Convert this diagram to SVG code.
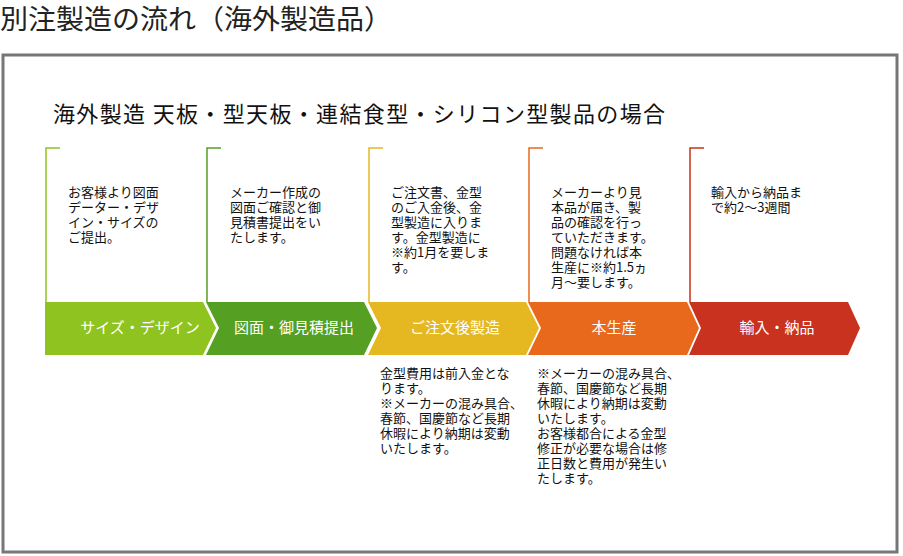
<svg xmlns="http://www.w3.org/2000/svg" width="903" height="556" viewBox="0 0 903 556">
<style>
text{font-family:"Noto Sans CJK JP","Noto Sans",sans-serif;}
.b{font-size:13px;fill:#111;}
.l{font-size:15px;fill:#fff;text-anchor:middle;}
.br{fill:none;stroke-width:1.5;}
</style>
<rect width="903" height="556" fill="#fff"/>
<text x="0" y="29" font-size="27" fill="#222" textLength="392" lengthAdjust="spacingAndGlyphs">別注製造の流れ（海外製造品）</text>
<rect x="3" y="55" width="894" height="497" fill="none" stroke="#777" stroke-width="3"/>
<text x="53" y="122" font-size="22" fill="#111" textLength="612">海外製造 天板・型天板・連結食型・シリコン型製品の場合</text>
<g id="connectors">
<path class="br" stroke="#8fc31f" d="M60,148H46V302"/>
<path class="br" stroke="#55a023" d="M221,148H207V302"/>
<path class="br" stroke="#e5b822" d="M383,148H369V302"/>
<path class="br" stroke="#e8691c" d="M543,148H529V302"/>
<path class="br" stroke="#c8321e" d="M704,148H690V302"/>
</g>
<g id="n1"><path d="M45,302H203L216,328L203,355H45Z" fill="#8fc31f"/><text class="l" x="140" y="333">サイズ・デザイン</text>
<text class="b" x="68" y="197">お客様より図面</text><text class="b" x="68" y="212">データー・デザ</text><text class="b" x="68" y="227">イン・サイズの</text><text class="b" x="68" y="242">ご提出。</text></g>
<g id="n2"><path d="M206,302H364L377,328L364,355H206L219,328Z" fill="#55a023"/><text class="l" x="294" y="333">図面・御見積提出</text>
<text class="b" x="230" y="197">メーカー作成の</text><text class="b" x="230" y="212">図面ご確認と御</text><text class="b" x="230" y="227">見積書提出をい</text><text class="b" x="230" y="242">たします。</text></g>
<g id="n3"><path d="M368,302H526L539,328L526,355H368L381,328Z" fill="#e5b822"/><text class="l" x="455" y="333">ご注文後製造</text>
<text class="b" x="391" y="197">ご注文書、金型</text><text class="b" x="391" y="212">のご入金後、金</text><text class="b" x="391" y="227">型製造に入りま</text><text class="b" x="391" y="242">す。金型製造に</text><text class="b" x="391" y="257">※約1月を要しま</text><text class="b" x="391" y="272">す。</text>
<text class="b" x="380" y="378">金型費用は前入金とな</text><text class="b" x="380" y="393">ります。</text><text class="b" x="380" y="408">※メーカーの混み具合、</text><text class="b" x="380" y="423">春節、国慶節など長期</text><text class="b" x="380" y="438">休暇により納期は変動</text><text class="b" x="380" y="453">いたします。</text></g>
<g id="n4"><path d="M528,302H687L699,328L687,355H528L541,328Z" fill="#e8691c"/><text class="l" x="614" y="333">本生産</text>
<text class="b" x="551" y="197">メーカーより見</text><text class="b" x="551" y="212">本品が届き、製</text><text class="b" x="551" y="227">品の確認を行っ</text><text class="b" x="551" y="242">ていただきます。</text><text class="b" x="551" y="257">問題なければ本</text><text class="b" x="551" y="272">生産に※約1.5ヵ</text><text class="b" x="551" y="287">月～要します。</text>
<text class="b" x="537" y="378">※メーカーの混み具合、</text><text class="b" x="537" y="393">春節、国慶節など長期</text><text class="b" x="537" y="408">休暇により納期は変動</text><text class="b" x="537" y="423">いたします。</text><text class="b" x="537" y="438">お客様都合による金型</text><text class="b" x="537" y="453">修正が必要な場合は修</text><text class="b" x="537" y="468">正日数と費用が発生い</text><text class="b" x="537" y="483">たします。</text></g>
<g id="n5"><path d="M689,302H848L860,328L848,355H689L701,328Z" fill="#c8321e"/><text class="l" x="777" y="333">輸入・納品</text>
<text class="b" x="711" y="197">輸入から納品ま</text><text class="b" x="711" y="212">で約2～3週間</text></g>
</svg>
